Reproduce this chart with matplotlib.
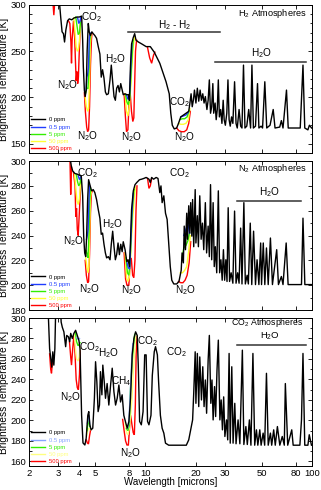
import matplotlib
matplotlib.use("Agg")
import matplotlib.pyplot as plt
from matplotlib.ticker import MultipleLocator, FixedLocator, NullLocator, NullFormatter

plt.rcParams['font.family'] = ['Liberation Sans', 'DejaVu Sans']
plt.rcParams['mathtext.default'] = 'regular'

# legend entries (N2O concentration)
conc_labels = ['0 ppm', '0.5 ppm', '5 ppm', '50 ppm', '500 ppm']
xtick_vals = [2, 3, 4, 5, 8, 10, 20, 30, 50, 80, 100]

# ---------------- H2 atmosphere: (wavelength [um], brightness temperature [K])
h2_0ppm = [
    (3.04, 305), (3.10, 287), (3.16, 271), (3.22, 269), (3.27, 260), (3.33, 273), (3.41, 283),
    (3.49, 285), (3.61, 284), (3.73, 286), (3.89, 287), (4.01, 287), (4.14, 288), (4.20, 262),
    (4.24, 233), (4.30, 208), (4.35, 201), (4.41, 208), (4.47, 251), (4.54, 280), (4.60, 271),
    (4.68, 267), (4.77, 271), (4.86, 269), (4.97, 267), (5.09, 264), (5.21, 255), (5.33, 247),
    (5.43, 222), (5.53, 230), (5.64, 221), (5.75, 206), (5.85, 203), (5.99, 204), (6.13, 219),
    (6.24, 235), (6.36, 217), (6.48, 201), (6.60, 197), (6.72, 210), (6.85, 213), (6.98, 206),
    (7.11, 215), (7.25, 208), (7.36, 203), (7.55, 204), (7.73, 203), (7.91, 203), (8.02, 197),
    (8.13, 233), (8.26, 258), (8.46, 265), (8.62, 269), (8.78, 262), (9.07, 260), (9.49, 258),
    (10.1, 255), (10.7, 255), (11.3, 249), (12.2, 237), (12.8, 226), (13.3, 217), (13.9, 204),
    (14.2, 183), (14.5, 170), (14.9, 166), (15.4, 167), (15.8, 172), (16.3, 179), (16.9, 181),
    (17.5, 183), (18.2, 185), (18.5, 194), (18.8, 204), (19.1, 190), (19.4, 197), (19.7, 208),
    (20.1, 194), (20.5, 210), (20.9, 196), (21.3, 208), (21.7, 197), (22.1, 204), (22.5, 194),
    (22.9, 201), (23.4, 187), (23.8, 197), (24.2, 219), (24.6, 183), (25.0, 190), (25.4, 215),
    (25.7, 183), (26.2, 194), (26.6, 176), (27.0, 187), (27.4, 219), (27.8, 179), (28.3, 187),
    (28.8, 172), (29.3, 197), (29.7, 176), (30.2, 170), (30.8, 183), (31.3, 219), (31.8, 176),
    (32.3, 169), (32.9, 179), (33.5, 172), (34.3, 217), (35.0, 172), (35.6, 167), (36.5, 187),
    (37.3, 169), (38.0, 167), (38.8, 235), (39.6, 167), (40.6, 169), (41.7, 187), (42.8, 167),
    (43.6, 235), (44.5, 167), (45.8, 169), (47.1, 215), (48.0, 167), (49.5, 169), (50.5, 167),
    (52.1, 217), (53.5, 167), (56.0, 170), (58.5, 187), (60.0, 167), (64.0, 168), (65.5, 175),
    (67.0, 167), (70.3, 208), (72.0, 167), (78.0, 167), (85.0, 167), (88.3, 235), (90.5, 167),
    (94.5, 165), (96.5, 170), (99.5, 167),
]
h2_0p5ppm = [
    [(3.92, 286), (3.98, 280), (4.04, 282), (4.10, 287)],
    [(4.41, 208), (4.45, 222), (4.50, 225), (4.55, 232), (4.60, 262), (4.64, 270)],
    [(7.70, 203), (7.85, 198), (8.00, 200), (8.10, 215), (8.20, 240), (8.30, 258)],
    [(16.3, 179), (16.9, 180), (17.5, 181), (18.1, 184)],
]
h2_5ppm = [
    [(3.82, 287), (3.88, 278), (3.95, 268), (4.02, 270), (4.08, 282)],
    [(4.38, 205), (4.45, 210), (4.52, 210), (4.58, 228), (4.63, 262), (4.68, 267)],
    [(7.60, 203), (7.75, 195), (7.90, 192), (8.05, 200), (8.20, 225), (8.35, 250), (8.45, 262)],
    [(16.1, 176), (16.6, 177), (17.2, 177), (17.8, 179), (18.3, 186)],
]
h2_50ppm = [
    [(3.72, 286), (3.78, 270), (3.84, 255), (3.90, 250), (3.96, 252), (4.02, 262), (4.08, 280)],
    [(4.35, 200), (4.42, 190), (4.50, 185), (4.56, 188), (4.62, 220), (4.67, 258), (4.72, 268)],
    [(7.55, 204), (7.70, 185), (7.85, 180), (8.00, 190), (8.15, 210), (8.30, 235), (8.45, 255), (8.60, 265)],
    [(15.8, 172), (16.3, 171), (16.9, 171), (17.5, 172), (18.1, 176), (18.5, 188)],
]
h2_500ppm = [
    [(2.78, 305), (2.82, 289), (2.86, 305)],
    [(3.45, 283), (3.52, 280), (3.57, 260), (3.60, 237), (3.63, 262), (3.70, 283), (3.76, 265),
     (3.80, 240), (3.84, 218), (3.88, 228), (3.92, 215), (3.96, 222), (4.00, 245), (4.05, 270), (4.10, 285)],
    [(4.30, 205), (4.36, 185), (4.44, 168), (4.50, 163), (4.56, 165), (4.62, 190), (4.68, 235), (4.74, 262), (4.78, 270)],
    [(7.45, 204), (7.58, 180), (7.70, 163), (7.85, 165), (7.98, 195), (8.10, 205), (8.25, 185), (8.40, 174),
     (8.52, 178), (8.62, 215), (8.72, 250), (8.85, 262)],
    [(10.3, 254), (10.6, 243), (10.9, 237), (11.2, 246), (11.4, 249)],
    [(15.4, 167), (15.9, 164), (16.5, 163), (17.1, 163), (17.7, 165), (18.2, 172), (18.6, 185)],
]

# ---------------- N2 atmosphere
n2_0ppm = [
    (3.51, 305), (3.59, 296), (3.66, 292), (3.77, 290), (3.89, 289.5), (4.01, 288.6), (4.12, 288),
    (4.20, 272), (4.26, 239.5), (4.32, 226), (4.38, 223), (4.43, 237), (4.50, 269), (4.56, 285),
    (4.64, 281), (4.75, 276), (4.86, 277), (4.97, 274.6), (5.09, 269), (5.21, 261), (5.33, 254),
    (5.43, 241), (5.53, 242), (5.64, 233), (5.75, 226), (5.85, 222), (5.99, 223), (6.13, 220.5),
    (6.24, 233), (6.36, 243.5), (6.48, 231), (6.60, 220.5), (6.72, 224.6), (6.85, 234), (6.98, 224.6),
    (7.11, 233), (7.25, 227), (7.36, 235), (7.55, 228.6), (7.73, 219), (7.87, 220.5), (8.02, 215),
    (8.13, 234), (8.26, 261), (8.46, 276), (8.66, 281), (8.87, 282.7), (9.22, 285), (9.49, 285.4),
    (9.78, 286), (10.1, 286.8), (10.5, 285.4), (10.7, 282.7), (10.9, 286.8), (11.2, 285.4),
    (11.6, 286.8), (11.9, 286), (12.2, 274.6), (12.4, 280), (12.6, 266.5), (12.9, 272), (13.2, 258),
    (13.5, 253), (13.8, 234), (14.1, 215), (14.4, 204), (14.8, 201), (15.4, 201), (15.9, 203),
    (16.4, 212), (16.6, 226), (16.9, 218), (17.1, 247.6), (17.4, 228.6), (17.7, 258), (17.9, 237),
    (18.2, 264), (18.5, 242), (18.7, 266.5), (19.0, 239.5), (19.2, 269), (19.5, 231), (19.9, 277),
    (20.1, 234), (20.5, 256), (20.8, 231), (21.2, 272), (21.6, 237), (22.0, 250), (22.4, 228.6),
    (22.9, 266.5), (23.3, 226), (23.8, 247.6), (24.2, 223), (24.6, 281), (25.0, 220.5), (25.5, 266.5),
    (25.9, 215), (26.3, 231), (26.8, 210), (27.4, 276), (27.9, 210), (28.4, 220.5), (28.9, 204),
    (29.4, 228.6), (29.9, 204), (30.4, 220.5), (30.9, 203), (31.4, 262.4), (32.0, 203), (32.7, 210),
    (33.5, 201.6), (34.3, 259.7), (35.0, 201.6), (35.8, 210), (36.5, 201.6), (37.3, 246), (38.0, 201),
    (39.0, 266.5), (39.8, 201), (40.8, 208), (41.5, 201), (42.6, 250), (43.5, 200.5), (44.6, 243.5),
    (45.8, 200.5), (46.8, 220.5), (48.0, 200.5), (49.2, 234), (49.8, 200.5), (51.0, 234), (52.1, 200.5),
    (53.3, 230), (54.6, 200.5), (56.3, 238), (57.9, 200.5), (61.4, 228.6), (62.9, 200.5), (65.5, 207),
    (67.0, 200.5), (70.0, 234), (71.9, 200.5), (77.1, 200.5), (86.5, 200.5), (88.3, 254), (90.6, 200.5),
    (99.3, 200.5),
]
n2_0p5ppm = [
    [(3.95, 288), (4.02, 285), (4.08, 287)],
    [(4.43, 237), (4.48, 240), (4.53, 245), (4.58, 268), (4.62, 280)],
    [(7.75, 218), (7.90, 214), (8.05, 213), (8.15, 232), (8.30, 258), (8.45, 274)],
    [(17.0, 240), (17.5, 245), (18.0, 250), (18.4, 242)],
]
n2_5ppm = [
    [(3.85, 289), (3.92, 283), (3.98, 280), (4.05, 282), (4.10, 287)],
    [(4.40, 228), (4.46, 225), (4.52, 222), (4.58, 240), (4.63, 268), (4.68, 278)],
    [(7.65, 222), (7.80, 210), (7.95, 208), (8.10, 220), (8.25, 245), (8.40, 265), (8.55, 277)],
    [(16.6, 222), (17.0, 230), (17.5, 232), (18.0, 236), (18.4, 242)],
]
n2_50ppm = [
    [(3.75, 290), (3.82, 278), (3.88, 268), (3.95, 265), (4.02, 270), (4.08, 282)],
    [(4.38, 222), (4.45, 215), (4.52, 210), (4.58, 215), (4.63, 245), (4.68, 270), (4.74, 276)],
    [(7.55, 226), (7.70, 206), (7.85, 203), (8.00, 206), (8.15, 225), (8.35, 250), (8.55, 268), (8.70, 279)],
    [(16.2, 210), (16.7, 210), (17.2, 212), (17.7, 215), (18.2, 228), (18.6, 240)],
]
n2_500ppm = [
    [(3.52, 305), (3.56, 273), (3.60, 295)],
    [(3.70, 291), (3.78, 280), (3.82, 255), (3.86, 262), (3.90, 245), (3.95, 240), (4.00, 255),
     (4.05, 270), (4.10, 285)],
    [(4.35, 220), (4.42, 208), (4.50, 202), (4.56, 203), (4.62, 225), (4.68, 258), (4.74, 274), (4.80, 276)],
    [(7.45, 226), (7.60, 205), (7.75, 200), (7.95, 200), (8.10, 218), (8.22, 222), (8.38, 208), (8.52, 206),
     (8.65, 220), (8.78, 260), (8.90, 280)],
    [(10.3, 286), (10.5, 278), (10.7, 280), (10.9, 286)],
    [(15.8, 203), (16.3, 202), (16.8, 202), (17.3, 204), (17.8, 208), (18.3, 218), (18.7, 235)],
]

# ---------------- CO2 atmosphere
co2_0ppm = [
    (2.61, 305), (2.64, 285), (2.66, 270), (2.70, 260.5), (2.74, 252), (2.78, 267), (2.82, 254),
    (2.86, 270), (2.89, 305), (3.10, 305), (3.12, 296), (3.17, 291), (3.24, 286.5), (3.32, 272),
    (3.37, 283), (3.45, 281.6), (3.51, 276.8), (3.56, 285), (3.64, 280), (3.72, 285), (3.81, 288),
    (3.90, 283), (3.99, 278), (4.05, 270), (4.14, 205), (4.22, 178), (4.33, 176), (4.41, 182.7),
    (4.51, 205), (4.57, 208.6), (4.64, 195.7), (4.72, 190.8), (4.83, 192.4), (4.94, 221.6),
    (5.02, 257.3), (5.11, 237.8), (5.20, 208.6), (5.30, 215), (5.37, 247.6), (5.48, 225), (5.55, 254),
    (5.66, 237.8), (5.76, 221.6), (5.89, 236), (6.03, 215), (6.18, 234.6), (6.32, 251), (6.47, 228),
    (6.62, 215), (6.77, 221.6), (6.93, 234.6), (7.09, 218), (7.25, 225), (7.42, 205), (7.59, 199),
    (7.77, 192.4), (7.96, 199), (8.14, 221.6), (8.33, 264), (8.53, 280), (8.73, 286.5), (8.93, 283),
    (9.06, 254), (9.23, 199), (9.45, 195.7), (9.68, 208.6), (9.90, 264), (10.1, 264), (10.3, 199),
    (10.5, 195.7), (10.8, 205), (11.0, 244), (11.3, 267), (11.5, 272), (11.8, 264), (12.0, 237.8),
    (12.3, 205), (12.6, 192.4), (12.9, 187.6), (13.2, 177.8), (13.8, 175.8), (17.6, 175.8),
    (18.2, 181), (18.7, 190.8), (19.2, 200.5), (19.5, 226.5), (19.9, 267), (20.1, 216.7), (20.5, 265.4),
    (20.9, 213.5), (21.2, 262), (21.7, 220), (22.1, 252.4), (22.5, 213.5), (22.9, 239.5), (23.3, 207),
    (23.8, 259), (24.2, 283), (24.7, 216.7), (25.1, 239.5), (25.5, 200.5), (26.0, 233), (26.4, 203.8),
    (26.9, 249), (27.4, 278.4), (28.0, 200.5), (28.5, 220), (29.0, 190.8), (29.5, 223), (30.0, 184.3),
    (30.7, 200.5), (31.2, 181), (31.8, 265.4), (32.3, 177.8), (33.0, 252.4), (33.6, 177.8),
    (34.4, 216.7), (35.0, 177.2), (36.0, 200.5), (36.9, 177.2), (38.2, 268.6), (39.0, 176.5),
    (40.1, 194), (40.9, 176.5), (42.1, 200.5), (43.0, 175.8), (44.2, 265.4), (45.3, 175.8),
    (46.4, 190.8), (47.3, 175.8), (48.6, 190.8), (49.5, 175.8), (50.9, 187.6), (52.0, 175.8),
    (53.3, 246), (54.6, 175.8), (56.3, 187.6), (57.3, 175.8), (58.9, 190.8), (60.2, 175.8),
    (62.0, 194), (64.1, 175.8), (66.3, 184.3), (68.2, 175.8), (69.2, 236), (71.5, 175.8),
    (75.6, 190.8), (77.1, 175.8), (84.6, 175.8), (86.5, 200.5), (88.3, 265.4), (90.5, 175.8),
    (94.5, 175.8), (96.3, 186), (99.3, 175.8),
]
co2_0p5ppm = [
    [(3.86, 281), (3.95, 279), (4.02, 280)],
    [(4.48, 197), (4.53, 202), (4.58, 205), (4.63, 196)],
    [(7.80, 192), (7.95, 197), (8.10, 225), (8.25, 255), (8.40, 275)],
]
co2_5ppm = [
    [(3.80, 286), (3.86, 277), (3.94, 273), (4.00, 274), (4.05, 276)],
    [(4.46, 190), (4.51, 197), (4.57, 200), (4.63, 194)],
    [(7.70, 192), (7.85, 190), (8.00, 195), (8.10, 225), (8.30, 255), (8.50, 275), (8.62, 284)],
]
co2_50ppm = [
    [(3.74, 284), (3.80, 270), (3.86, 260), (3.94, 258), (4.00, 262), (4.05, 272)],
    [(4.44, 185), (4.50, 190), (4.56, 192), (4.62, 192), (4.68, 191)],
    [(7.55, 198), (7.70, 188), (7.85, 186), (8.00, 192), (8.10, 200), (8.30, 220), (8.45, 245),
     (8.60, 265), (8.75, 282)],
]
co2_500ppm = [
    [(2.66, 265), (2.70, 250), (2.73, 246), (2.76, 255), (2.79, 262)],
    [(3.50, 277), (3.56, 262), (3.60, 254), (3.66, 270), (3.72, 283), (3.78, 265), (3.84, 240),
     (3.90, 232), (3.96, 230), (4.02, 245), (4.06, 268)],
    [(4.42, 181), (4.48, 178), (4.55, 177), (4.62, 185), (4.68, 190)],
    [(7.30, 201), (7.45, 190), (7.60, 180), (7.75, 176), (7.90, 176), (8.05, 195), (8.15, 205),
     (8.30, 196), (8.45, 188), (8.58, 186), (8.70, 215), (8.80, 265), (8.90, 282)],
]

colors_std = ['black', '#1f3dff', '#33ee00', '#ffff33', '#ff0000']
colors_co2 = ['black', '#86a4ff', '#33ee00', '#ffff80', '#ff0000']


def draw_panel(ax, black, blue, green, yellow, red, colors, ylim, major, show_xlabels):
    handles = []
    # red first, black last so the lower curves stay visible
    for segs, col in zip([red, yellow, green, blue], colors[:0:-1]):
        h = None
        for seg in segs:
            lam, temp = zip(*seg)
            h, = ax.plot(lam, temp, color=col, lw=1.0, solid_joinstyle='miter')
        handles.append(h)
    lam, temp = zip(*black)
    hb, = ax.plot(lam, temp, color='black', lw=1.0)
    handles = [hb] + handles[::-1]

    ax.set_xscale('log')
    ax.set_xlim(2, 100)
    ax.set_ylim(*ylim)
    ax.xaxis.set_major_locator(FixedLocator(xtick_vals))
    ax.xaxis.set_minor_locator(NullLocator())
    ax.xaxis.set_minor_formatter(NullFormatter())
    if show_xlabels:
        ax.set_xticklabels([str(v) for v in xtick_vals])
    else:
        ax.set_xticklabels([])
    ax.yaxis.set_major_locator(MultipleLocator(major))
    ax.yaxis.set_minor_locator(MultipleLocator(10))
    ax.tick_params(which='both', direction='in', top=True, right=True, labelsize=6.8, pad=2,
                   width=0.6)
    ax.tick_params(which='major', length=3)
    ax.tick_params(which='minor', length=1.8)
    for s in ax.spines.values():
        s.set_linewidth(0.7)
    ax.set_ylabel('Brightness Temperature [K]', fontsize=7.3)
    ax.yaxis.set_label_coords(-0.072, 0.5)

    leg = ax.legend(handles, conc_labels, loc='lower left', bbox_to_anchor=(0.006, 0.012),
                    frameon=False, fontsize=4.2, handlelength=2.5, handletextpad=0.7,
                    labelspacing=0.36, borderpad=0, borderaxespad=0, labelcolor='linecolor')
    for line in leg.get_lines():
        line.set_linewidth(1.0)


fig = plt.figure(figsize=(3.21, 4.90), dpi=100)
ax1 = fig.add_axes([0.0903, 0.6878, 0.8816, 0.302])
ax2 = fig.add_axes([0.0903, 0.3673, 0.8816, 0.304])
ax3 = fig.add_axes([0.0903, 0.0490, 0.8816, 0.302])

draw_panel(ax1, h2_0ppm, h2_0p5ppm, h2_5ppm, h2_50ppm, h2_500ppm, colors_std, (140, 300), 50, False)
draw_panel(ax2, n2_0ppm, n2_0p5ppm, n2_5ppm, n2_50ppm, n2_500ppm, colors_std, (180, 300), 20, False)
draw_panel(ax3, co2_0ppm, co2_0p5ppm, co2_5ppm, co2_50ppm, co2_500ppm, colors_co2, (155.5, 300), 20, True)
ax3.set_xlabel('Wavelength [microns]', fontsize=7)
ax3.xaxis.set_label_coords(0.5, -0.075)

fs = 7.2
kw = dict(ha='center', va='center', fontsize=fs)

# H2 panel labels
ax1.text(93, 291, 'H$_2$ Atmospheres', ha='right', va='center', fontsize=6.6)
ax1.text(4.75, 287, 'CO$_2$', **kw)
ax1.text(15.0, 278.5, 'H$_2$ - H$_2$', **kw)
ax1.plot([7.9, 28.1], [270.8, 270.8], color='#333333', lw=1.1)
ax1.text(6.6, 242, 'H$_2$O', **kw)
ax1.text(3.41, 213.5, 'N$_2$O', **kw)
ax1.text(4.5, 158, 'N$_2$O', **kw)
ax1.text(8.2, 157, 'N$_2$O', **kw)
ax1.text(15.9, 195.5, 'CO$_2$', **kw)
ax1.text(17.1, 157, 'N$_2$O', **kw)
ax1.text(49.6, 247.5, 'H$_2$O', **kw)
ax1.plot([26.1, 92.7], [238.6, 238.6], color='#333333', lw=1.1)

# N2 panel labels
ax2.text(93, 294, 'N$_2$ Atmospheres', ha='right', va='center', fontsize=6.6)
ax2.text(4.48, 290.5, 'CO$_2$', **kw)
ax2.text(3.68, 235.4, 'N$_2$O', **kw)
ax2.text(6.32, 249, 'H$_2$O', **kw)
ax2.text(4.64, 196.8, 'N$_2$O', **kw)
ax2.text(8.2, 195.7, 'N$_2$O', **kw)
ax2.text(17.3, 195.7, 'N$_2$O', **kw)
ax2.text(15.9, 290.3, 'CO$_2$', **kw)
ax2.text(55.6, 274.6, 'H$_2$O', **kw)
ax2.plot([35.3, 86.5], [267.8, 267.8], color='#333333', lw=1.1)

# CO2 panel labels
ax3.text(54, 295.8, 'CO$_2$ Atmospheres', ha='center', va='center', fontsize=6.3)
ax3.text(55.9, 282.3, 'H$_2$O', ha='center', va='center', fontsize=6.8)
ax3.plot([35.3, 92], [273.8, 273.8], color='#333333', lw=1.1)
ax3.text(4.6, 272, 'CO$_2$', **kw)
ax3.text(5.96, 265.4, 'H$_2$O', **kw)
ax3.text(3.54, 223, 'N$_2$O', **kw)
ax3.text(7.1, 238.8, 'CH$_4$', **kw)
ax3.text(8.1, 168, 'N$_2$O', **kw)
ax3.text(10.3, 277.7, 'CO$_2$', **kw)
ax3.text(15.4, 267, 'CO$_2$', **kw)

fig.savefig('out.png', dpi=100)
